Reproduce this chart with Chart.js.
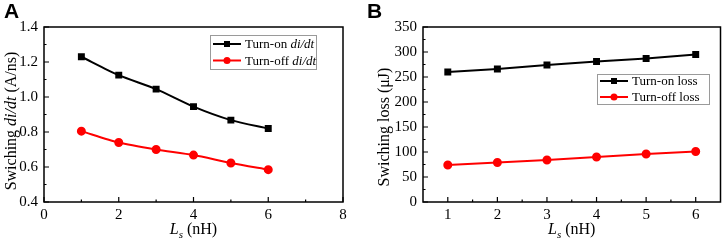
<!DOCTYPE html>
<html>
<head>
<meta charset="utf-8">
<script src="https://cdn.jsdelivr.net/npm/chart.js@4"></script>
<style>
  body { margin: 0; background: #fff; }
  .panel { position: absolute; top: 0; width: 363px; height: 243px; }
  .tag { position: absolute; left: 4px; top: 0; font: bold 21px "Liberation Sans", Arial, sans-serif; line-height: 21px; }
</style>
</head>
<body>
<div class="panel" style="left:0"><canvas id="a" width="363" height="243"></canvas><div class="tag">A</div></div>
<div class="panel" style="left:363px"><canvas id="b" width="363" height="243"></canvas><div class="tag">B</div></div>
<script>
// inductance (nH)
const ls = [1, 2, 3, 4, 5, 6];

// panel A: di/dt (A/ns)
const onDidt = [1.23, 1.125, 1.045, 0.945, 0.868, 0.82];
const offDidt = [0.805, 0.74, 0.70, 0.668, 0.623, 0.585];

// panel B: switching loss (uJ)
const onLoss = [260, 266, 274, 281, 287, 295];
const offLoss = [74, 79, 84, 90, 96, 101];

// tick values
const xTicksA = [0, 2, 4, 6, 8];
const xMinorA = [1, 3, 5, 7];
const yTicksA = [0.4, 0.6, 0.8, 1.0, 1.2, 1.4];
const yMinorA = [0.5, 0.7, 0.9, 1.1, 1.3];
const xTicksB = [1, 2, 3, 4, 5, 6];
const xMinorB = [1.5, 2.5, 3.5, 4.5, 5.5];
const yTicksB = [0, 50, 100, 150, 200, 250, 300, 350];
const yMinorB = [25, 75, 125, 175, 225, 275, 325];

const SERIF = '"Liberation Serif", "Times New Roman", serif';

function runsWidth(ctx, runs) {
  let w = 0;
  runs.forEach(r => { ctx.font = (r.i ? 'italic ' : '') + (r.size || 16) + 'px ' + SERIF; w += ctx.measureText(r.t).width; });
  return w;
}
function drawRuns(ctx, runs, x, y) {
  runs.forEach(r => {
    ctx.font = (r.i ? 'italic ' : '') + (r.size || 16) + 'px ' + SERIF;
    ctx.fillText(r.t, x, y + (r.dy || 0));
    x += ctx.measureText(r.t).width;
  });
}

// frame, inward ticks, axis titles
const frameTicks = {
  id: 'frameTicks',
  afterDraw(chart, args, o) {
    const {ctx, chartArea: a, scales: {x, y}} = chart;
    ctx.save();
    ctx.strokeStyle = '#000';
    ctx.lineWidth = 1.5;
    ctx.strokeRect(a.left, a.top, a.right - a.left, a.bottom - a.top);
    ctx.lineWidth = 1.2;
    ctx.beginPath();
    o.xMajor.forEach(v => { const p = x.getPixelForValue(v); ctx.moveTo(p, a.bottom); ctx.lineTo(p, a.bottom - 5); });
    o.xMinor.forEach(v => { const p = x.getPixelForValue(v); ctx.moveTo(p, a.bottom); ctx.lineTo(p, a.bottom - 2.5); });
    o.yMajor.forEach(v => { const p = y.getPixelForValue(v); ctx.moveTo(a.left, p); ctx.lineTo(a.left + 5, p); });
    o.yMinor.forEach(v => { const p = y.getPixelForValue(v); ctx.moveTo(a.left, p); ctx.lineTo(a.left + 2.5, p); });
    ctx.stroke();

    ctx.fillStyle = '#000';
    ctx.textBaseline = 'alphabetic';
    ctx.textAlign = 'left';
    // x title
    const xr = [{t: 'L', i: true}, {t: 's', i: true, size: 11, dy: 4}, {t: ' (nH)'}];
    const xw = runsWidth(ctx, xr);
    drawRuns(ctx, xr, (a.left + a.right) / 2 - xw / 2, o.xTitleY);
    // y title
    const yw = runsWidth(ctx, o.yTitle);
    ctx.translate(o.yTitleX, o.yTitleCY);
    ctx.rotate(-Math.PI / 2);
    drawRuns(ctx, o.yTitle, -yw / 2, 5);
    ctx.restore();
  }
};

// boxed legend with italic runs
const boxLegend = {
  id: 'boxLegend',
  afterDraw(chart, args, o) {
    const {ctx} = chart;
    ctx.save();
    ctx.strokeStyle = '#9a9a9a';
    ctx.lineWidth = 1;
    ctx.strokeRect(o.x + 0.5, o.y + 0.5, o.w, o.h);
    chart.data.datasets.forEach((ds, i) => {
      const cy = o.y + o.row0 + i * o.rowH;
      ctx.strokeStyle = ds.borderColor;
      ctx.fillStyle = ds.borderColor;
      ctx.lineWidth = 2;
      ctx.beginPath();
      ctx.moveTo(o.x + 3, cy); ctx.lineTo(o.x + 3 + o.lineW, cy);
      ctx.stroke();
      const mx = o.x + 3 + o.lineW / 2;
      if (ds.pointStyle === 'rect') ctx.fillRect(mx - 3, cy - 3, 6, 6);
      else { ctx.beginPath(); ctx.arc(mx, cy, 3.5, 0, Math.PI * 2); ctx.fill(); }
      ctx.fillStyle = '#000';
      ctx.textBaseline = 'middle';
      drawRuns(ctx, o.labels[i], o.x + o.lineW + 7, cy + 1);
    });
    ctx.restore();
  }
};

function makeChart(id, cfg) {
  const sets = [
    {data: ls.map((v, i) => ({x: v, y: cfg.on[i]})), borderColor: '#000000', backgroundColor: '#000000', pointStyle: 'rect', pointRadius: 3.5},
    {data: ls.map((v, i) => ({x: v, y: cfg.off[i]})), borderColor: '#ff0000', backgroundColor: '#ff0000', pointStyle: 'circle', pointRadius: 3.5}
  ].map(d => Object.assign(d, {borderWidth: 2, tension: cfg.tension, pointHoverRadius: 3.5}));

  return new Chart(document.getElementById(id), {
    type: 'line',
    data: {datasets: sets},
    plugins: [frameTicks, boxLegend],
    options: {
      responsive: false,
      animation: false,
      layout: {padding: {left: 0, right: cfg.padRight, top: 27, bottom: 0}},
      plugins: {
        legend: {display: false},
        tooltip: {enabled: false},
        frameTicks: Object.assign({}, cfg.frame),
        boxLegend: cfg.legend
      },
      scales: {
        x: {
          type: 'linear', min: cfg.xMin, max: cfg.xMax,
          grid: {display: false, drawTicks: false}, border: {display: false},
          afterBuildTicks: s => { s.ticks = cfg.xTicks.map(v => ({value: v})); },
          afterFit: s => { s.height = 41; },
          ticks: {padding: 4, color: '#000', font: {family: SERIF, size: 15}, callback: v => String(v)}
        },
        y: {
          min: cfg.yMin, max: cfg.yMax,
          grid: {display: false, drawTicks: false}, border: {display: false},
          afterBuildTicks: s => { s.ticks = cfg.yTicks.map(v => ({value: v})); },
          afterFit: s => { s.width = cfg.yWidth; },
          ticks: {padding: 6, color: '#000', font: {family: SERIF, size: 15}, callback: cfg.yFmt}
        }
      }
    }
  });
}

makeChart('a', {
  on: onDidt, off: offDidt, tension: 0.25,
  xMin: 0, xMax: 8, xTicks: xTicksA,
  yMin: 0.4, yMax: 1.4, yTicks: yTicksA, yFmt: v => v.toFixed(1),
  yWidth: 44, padRight: 20,
  frame: {xMajor: xTicksA, xMinor: xMinorA, yMajor: yTicksA, yMinor: yMinorA, xTitleY: 234, yTitleX: 11, yTitleCY: 121,
    yTitle: [{t: 'Swiching '}, {t: 'di/dt', i: true}, {t: ' (A/ns)'}]},
  legend: {x: 210, y: 35, w: 106, h: 34, row0: 9, rowH: 16.5, lineW: 28,
    labels: [[{t: 'Turn-on ', size: 13}, {t: 'di/dt', i: true, size: 13}], [{t: 'Turn-off ', size: 13}, {t: 'di/dt', i: true, size: 13}]]}
});

makeChart('b', {
  on: onLoss, off: offLoss, tension: 0,
  xMin: 0.5, xMax: 6.5, xTicks: xTicksB,
  yMin: 0, yMax: 350, yTicks: yTicksB, yFmt: v => String(v),
  yWidth: 60, padRight: 4,
  frame: {xMajor: xTicksB, xMinor: xMinorB, yMajor: yTicksB, yMinor: yMinorB, xTitleY: 234, yTitleX: 21, yTitleCY: 127,
    yTitle: [{t: 'Swiching loss (\u03bcJ)'}]},
  legend: {x: 597 - 363, y: 74, w: 112, h: 30, row0: 7, rowH: 16, lineW: 28,
    labels: [[{t: 'Turn-on loss', size: 13}], [{t: 'Turn-off loss', size: 13}]]}
});
</script>
</body>
</html>
